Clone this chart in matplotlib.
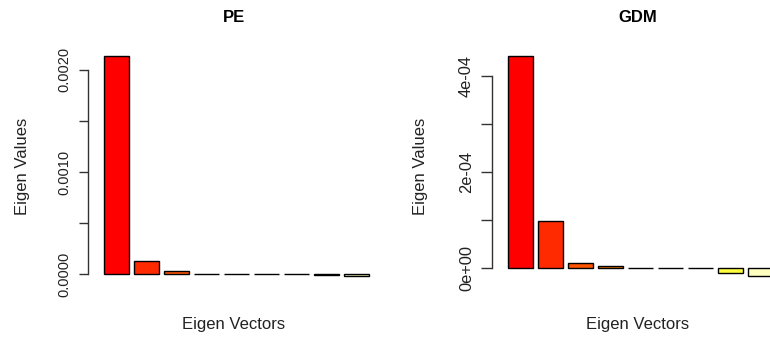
import numpy as np
import matplotlib
matplotlib.use("Agg")
import matplotlib.pyplot as plt

plt.rcParams['font.family'] = ['Liberation Sans', 'DejaVu Sans']

# eigen values of the two decompositions
pe_vals = [0.002138, 0.000135, 0.000033, 0.000008, 0.000001, 0.0000005, 0.0000005, -0.000004, -0.000018]
gdm_vals = [4.42e-4, 0.977e-4, 0.11e-4, 0.05e-4, 0.0, 0.0, 0.0, -0.095e-4, -0.17e-4]

pe_ticks = [0.0, 0.0005, 0.0010, 0.0015, 0.0020]
pe_ticklabels = ['0.0000', '', '0.0010', '', '0.0020']
gdm_ticks = [0.0, 1e-4, 2e-4, 3e-4, 4e-4]
gdm_ticklabels = ['0e+00', '', '2e-04', '', '4e-04']

# heat colours, red -> pale yellow
bar_colors = ['#FF0000', '#FF2A00', '#FF5500', '#FF8000', '#FFAA00',
              '#FFD500', '#FFFF00', '#FFFF40', '#FFFFBF']

TXT = '#222222'

fig = plt.figure(figsize=(7.7, 3.41), dpi=100)


def barplot(ax, vals, ticks, ticklabels, title, ylab_x, tick_fs, tick_len, tick_pad):
    n = len(vals)
    # same geometry as R barplot: width 1, space 0.2
    x = 0.2 + 1.2 * np.arange(n) + 0.5
    ax.bar(x, vals, width=1.0, color=bar_colors, edgecolor='black', linewidth=1.0)
    xr = 0.2 + 1.2 * (n - 1) + 1.0
    ax.set_xlim(-0.04 * (xr - 0.2), xr + 0.04 * (xr - 0.2))
    lo, hi = min(min(vals), 0), max(vals)
    ext = 0.04 * (hi - lo)
    ax.set_ylim(lo - ext, hi + ext)

    for s in ['top', 'right', 'bottom']:
        ax.spines[s].set_visible(False)
    ax.spines['left'].set_bounds(ticks[0], ticks[-1])
    ax.spines['left'].set_color('#333333')
    ax.spines['left'].set_linewidth(1.0)
    ax.set_xticks([])
    ax.set_yticks(ticks)
    ax.set_yticklabels(ticklabels, rotation=90, va='center', fontsize=tick_fs, color=TXT)
    ax.tick_params(axis='y', length=tick_len, width=1.0, color='#333333', pad=tick_pad)

    ax.set_title(title, fontsize=12, fontweight='bold', y=1.122, va='center', pad=0)
    ax.set_xlabel('Eigen Vectors', fontsize=12, color=TXT)
    ax.xaxis.set_label_coords(0.5, -0.168)
    ax.xaxis.label.set_va('center')
    ax.set_ylabel('Eigen Values', fontsize=12, color=TXT)
    ax.yaxis.set_label_coords(ylab_x, 0.5)
    ax.yaxis.label.set_va('center')


W, H = 770.0, 341.0
top, bot = 47.0, 285.0
ax1 = fig.add_axes([88 / W, 1 - bot / H, 292 / W, (bot - top) / H])
barplot(ax1, pe_vals, pe_ticks, pe_ticklabels, 'PE', -65 / 292, 10.5, 6.5, 5.5)

ax2 = fig.add_axes([492 / W, 1 - bot / H, 292 / W, (bot - top) / H])
barplot(ax2, gdm_vals, gdm_ticks, gdm_ticklabels, 'GDM', -71 / 292, 11.8, 8, 5)

fig.savefig('out.png', dpi=100)
